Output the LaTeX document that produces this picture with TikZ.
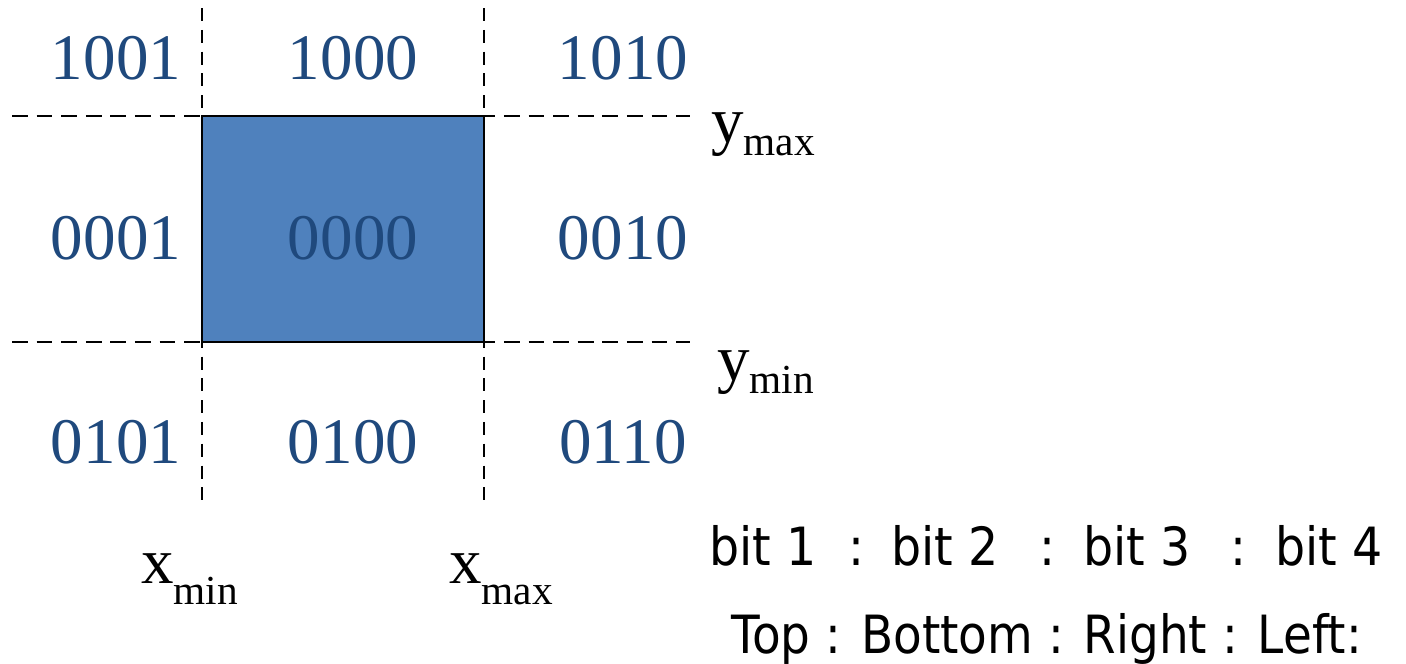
\documentclass[tikz,border=0pt]{standalone}
\usepackage{fontspec}
\setmainfont{Liberation Serif}
\newfontfamily\tahoma[FakeStretch=0.9]{DejaVu Sans}
\newfontfamily\tahomab[FakeStretch=0.89]{DejaVu Sans}
\definecolor{codeblue}{HTML}{1F497D}
\definecolor{boxblue}{HTML}{4F81BD}
\newcommand{\subtx}[1]{{\fontsize{23.5}{26}\selectfont\raisebox{-12pt}{#1}}}
\newcommand{\subty}[1]{{\fontsize{23.5}{26}\selectfont\raisebox{-7.5pt}{#1}}}
\begin{document}
\begin{tikzpicture}[x=0.02cm,y=-0.02cm,
  code/.style={text=codeblue,font=\fontsize{37}{40}\selectfont,inner sep=0pt,anchor=base},
  lbl/.style={text=black,font=\fontsize{37}{40}\selectfont,inner sep=0pt,anchor=base west},
  bits/.style={text=black,font=\tahoma\fontsize{30}{34}\selectfont,inner sep=0pt,anchor=base west},
  colon/.style={text=black,font=\tahoma\fontsize{30}{34}\selectfont,inner sep=0pt,anchor=base},
  sides/.style={text=black,font=\tahomab\fontsize{30}{34}\selectfont,inner sep=0pt,anchor=base west},
  guidev/.style={draw=black,line width=0.8pt,dash pattern=on 7.4pt off 5pt},
  guideh/.style={draw=black,line width=1pt,dash pattern=on 9pt off 5pt}]
\useasboundingbox (0,0) rectangle (1406,663);
% guides
\coordinate (vl1) at (202,8);  \coordinate (vl2) at (202,506);
\coordinate (vr1) at (484,8);  \coordinate (vr2) at (484,506);
\coordinate (ht1) at (12,116); \coordinate (ht2) at (690,116);
\coordinate (hb1) at (12,342); \coordinate (hb2) at (690,342);
\draw[guidev] (vl1) -- (vl2);
\draw[guidev] (vr1) -- (vr2);
\draw[guideh] (ht1) -- (ht2);
\draw[guideh] (hb1) -- (hb2);
% window
\node[draw=black,line width=1.3pt,fill=boxblue,minimum width=282*0.02cm,minimum height=226*0.02cm,inner sep=0pt] (win) at (343,229) {};
% codes
\node[code] (c1001) at (116,79) {1001};
\node[code] (c1000) at (353,79) {1000};
\node[code] (c1010) at (623,79) {1010};
\node[code] (c0001) at (116,259) {0001};
\node[code] (c0000) at (353,259) {0000};
\node[code] (c0010) at (623,259) {0010};
\node[code] (c0101) at (116,463) {0101};
\node[code] (c0100) at (353,463) {0100};
\node[code] (c0110) at (623,463) {0110};
% bounds
\node[lbl] (xmin) at (141,583) {x\subtx{min}};
\node[lbl] (xmax) at (449,583) {x\subtx{max}};
\node[lbl] (ymax) at (711,142) {y\subty{max}};
\node[lbl] (ymin) at (717,380) {y\subty{min}};
% bit legend
\node[bits] (b1) at (709,565) {bit 1};
\node[colon] (k1) at (856,565) {:};
\node[bits] (b2) at (891,565) {bit 2};
\node[colon] (k2) at (1047,565) {:};
\node[bits] (b3) at (1083,565) {bit 3};
\node[colon] (k3) at (1238,565) {:};
\node[bits] (b4) at (1275,565) {bit 4};
\node[sides] (sideline) at (731,653) {Top : Bottom : Right : Left:};
\end{tikzpicture}
\end{document}
